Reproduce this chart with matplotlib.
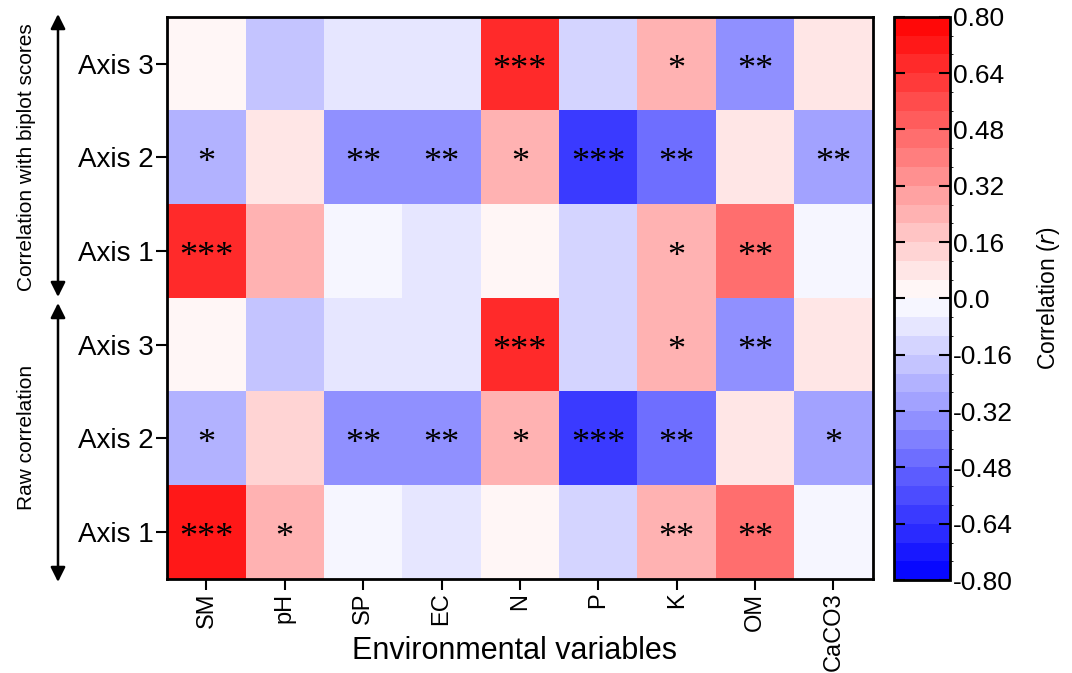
import matplotlib
matplotlib.use("Agg")
import matplotlib.pyplot as plt
import numpy as np
from matplotlib.colors import ListedColormap, BoundaryNorm

plt.rcParams['font.family'] = ['Liberation Sans', 'DejaVu Sans']

# columns / rows
variables = ['SM', 'pH', 'SP', 'EC', 'N', 'P', 'K', 'OM', 'CaCO3']
row_labels = ['Axis 3', 'Axis 2', 'Axis 1', 'Axis 3', 'Axis 2', 'Axis 1']

# correlation values (rows top to bottom: biplot Axis 3,2,1 then raw Axis 3,2,1)
biplot_axis3 = [0.03, -0.19, -0.08, -0.08, 0.66, -0.13, 0.24, -0.35, 0.08]
biplot_axis2 = [-0.24, 0.08, -0.35, -0.35, 0.24, -0.62, -0.45, 0.08, -0.29]
biplot_axis1 = [0.66, 0.24, -0.03, -0.08, 0.03, -0.13, 0.24, 0.45, -0.03]
raw_axis3 = [0.03, -0.19, -0.08, -0.08, 0.66, -0.13, 0.24, -0.35, 0.08]
raw_axis2 = [-0.24, 0.13, -0.35, -0.35, 0.24, -0.62, -0.45, 0.08, -0.29]
raw_axis1 = [0.72, 0.24, -0.03, -0.08, 0.03, -0.13, 0.24, 0.45, -0.03]

# significance marks
sig_biplot_axis3 = ['', '', '', '', '***', '', '*', '**', '']
sig_biplot_axis2 = ['*', '', '**', '**', '*', '***', '**', '', '**']
sig_biplot_axis1 = ['***', '', '', '', '', '', '*', '**', '']
sig_raw_axis3 = ['', '', '', '', '***', '', '*', '**', '']
sig_raw_axis2 = ['*', '', '**', '**', '*', '***', '**', '', '*']
sig_raw_axis1 = ['***', '*', '', '', '', '', '**', '**', '']

cbar_ticks = [0.8, 0.64, 0.48, 0.32, 0.16, 0.0, -0.16, -0.32, -0.48, -0.64, -0.8]
cbar_ticklabels = ['0.80', '0.64', '0.48', '0.32', '0.16', '0.0',
                   '-0.16', '-0.32', '-0.48', '-0.64', '-0.80']

data = np.array([biplot_axis3, biplot_axis2, biplot_axis1,
                 raw_axis3, raw_axis2, raw_axis1])
sig = [sig_biplot_axis3, sig_biplot_axis2, sig_biplot_axis1,
       sig_raw_axis3, sig_raw_axis2, sig_raw_axis1]

# 30 discrete levels of a blue-white-red map
nlev = 30
cmap = ListedColormap(plt.cm.bwr((np.arange(nlev) + 0.5) / nlev))
bounds = np.linspace(-0.8, 0.8, nlev + 1)
norm = BoundaryNorm(bounds, nlev)

fig = plt.figure(figsize=(10.72, 6.73), dpi=100)
ax = fig.add_axes([0.156, 0.14, 0.658, 0.835])
mesh = ax.pcolormesh(np.arange(10), np.arange(7), data, cmap=cmap, norm=norm)
ax.set_xlim(0, 9)
ax.set_ylim(6, 0)

for i in range(data.shape[0]):
    for j in range(data.shape[1]):
        if sig[i][j]:
            ax.text(j + 0.5, i + 0.57, sig[i][j], ha='center', va='center',
                    fontsize=26, family='Liberation Serif')

ax.set_xticks(np.arange(9) + 0.5)
ax.set_xticklabels(variables, rotation=90, fontsize=17)
ax.set_yticks(np.arange(6) + 0.5)
ax.set_yticklabels(row_labels, fontsize=20)
ax.tick_params(direction='out', length=8, width=1.5, pad=2)
for s in ax.spines.values():
    s.set_linewidth(2)
fig.text(515 / 1072, 1 - 651 / 673, 'Environmental variables', ha='center',
         va='center', fontsize=22)

cax = fig.add_axes([0.834, 0.138, 0.052, 0.837])
cb = fig.colorbar(mesh, cax=cax, ticks=cbar_ticks)
cb.ax.set_yticklabels(cbar_ticklabels, fontsize=19)
cb.ax.tick_params(direction='in', length=8, width=1.5, left=True, right=True, pad=2)
cb.outline.set_linewidth(2)
cb.set_label('Correlation ($\\it{r}$)', fontsize=16.5, labelpad=16)

# group arrows on the left
ax.annotate('', xy=(58 / 1072, 1 - 14 / 673), xytext=(58 / 1072, 1 - 297 / 673),
            xycoords='figure fraction', textcoords='figure fraction',
            arrowprops=dict(arrowstyle='<|-|>', color='black', lw=1.8,
                            mutation_scale=22, shrinkA=0, shrinkB=0))
ax.annotate('', xy=(58 / 1072, 1 - 303 / 673), xytext=(58 / 1072, 1 - 582 / 673),
            xycoords='figure fraction', textcoords='figure fraction',
            arrowprops=dict(arrowstyle='<|-|>', color='black', lw=1.8,
                            mutation_scale=22, shrinkA=0, shrinkB=0))
fig.text(27 / 1072, 1 - 157 / 673, 'Correlation with biplot scores', rotation=90,
         ha='center', va='center', fontsize=15,
         family=['Liberation Sans Narrow', 'Liberation Sans'])
fig.text(27 / 1072, 1 - 437 / 673, 'Raw correlation', rotation=90,
         ha='center', va='center', fontsize=15,
         family=['Liberation Sans Narrow', 'Liberation Sans'])

fig.savefig('out.png', dpi=100)
